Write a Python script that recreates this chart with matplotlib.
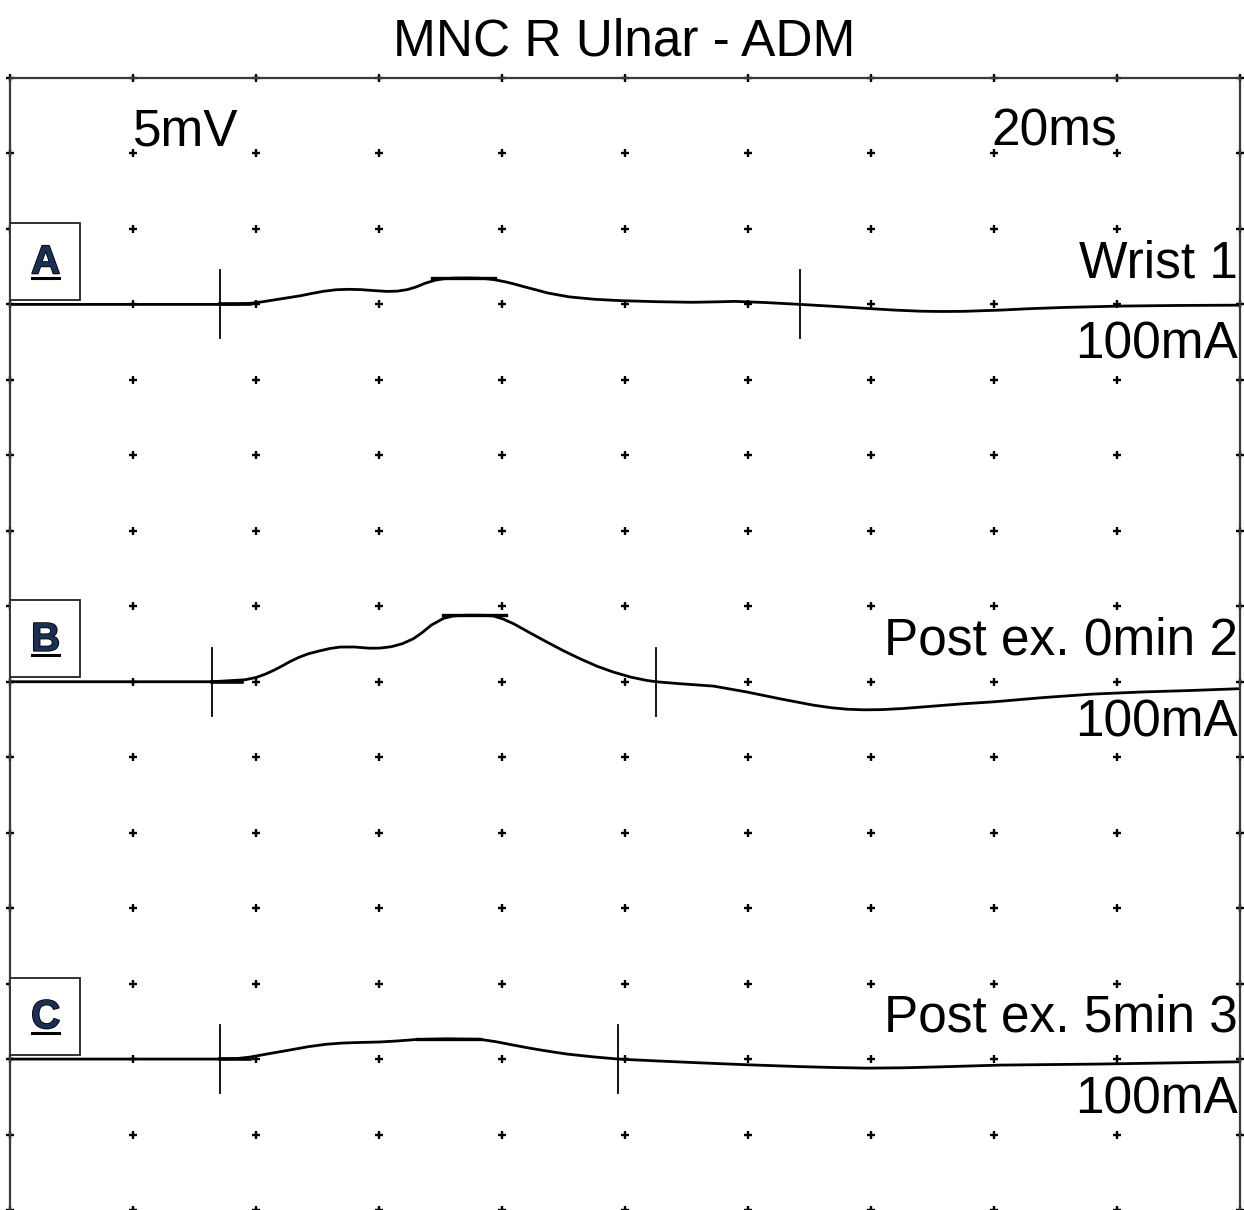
import numpy as np
import matplotlib.pyplot as plt
import matplotlib.patheffects as pe
from matplotlib.patches import Rectangle

plt.rcParams['font.family'] = ['Liberation Sans', 'DejaVu Sans']

# sweep: 20 ms over 10 divisions, 5 mV per division, 15 divisions tall
title = "MNC R Ulnar - ADM"
gain_label = "5mV"
sweep_label = "20ms"

trace_letters = ["A", "B", "C"]
trace_names = ["Wrist 1", "Post ex. 0min 2", "Post ex. 5min 3"]
trace_stim = ["100mA", "100mA", "100mA"]
trace_offsets = [60, 35, 10]  # baseline of each trace (mV on the screen)

# trace A (ms, mV)
t_a = [0, 1.14, 3.41, 3.70, 3.90, 4.10, 4.30, 4.50, 4.72, 4.90, 5.10, 5.30, 5.50,
       5.70, 5.90, 6.13, 6.30, 6.46, 6.60, 6.75, 6.91, 7.05, 7.20, 7.41, 7.60,
       7.75, 7.87, 8.05, 8.20, 8.35, 8.52, 8.75, 9.09, 9.50, 9.92, 10.50, 11.09,
       11.50, 11.79, 12.30, 12.85, 13.40, 13.94, 14.40, 14.80, 15.15, 15.50,
       16.09, 16.60, 17.15, 18.07, 19.00, 20.0]
v_a = [0, 0, 0, 0.02, 0.07, 0.17, 0.30, 0.43, 0.57, 0.72, 0.87, 0.97, 1.00,
       0.98, 0.92, 0.86, 0.88, 0.98, 1.15, 1.40, 1.60, 1.70, 1.74, 1.75, 1.74,
       1.70, 1.64, 1.50, 1.35, 1.18, 1.00, 0.75, 0.50, 0.34, 0.25, 0.18, 0.14,
       0.17, 0.20, 0.12, 0.0, -0.13, -0.27, -0.38, -0.45, -0.47, -0.46,
       -0.38, -0.28, -0.20, -0.11, -0.07, -0.05]

# trace B
t_b = [0, 3.28, 3.82, 4.00, 4.15, 4.30, 4.45, 4.55, 4.70, 4.85, 5.04, 5.20,
       5.37, 5.60, 5.85, 6.02, 6.20, 6.38, 6.56, 6.70, 6.85, 7.05, 7.20, 7.35,
       7.53, 7.70, 7.86, 8.02, 8.19, 8.45, 8.73, 9.00, 9.27, 9.55, 9.81, 10.10,
       10.35, 10.50, 10.89, 11.44, 11.98, 12.52, 13.06, 13.35, 13.61, 13.88,
       14.15, 14.50, 15.0, 15.50, 16.0, 16.80, 17.6, 18.40, 19.2, 20.0]
v_b = [0, 0, 0.13, 0.28, 0.50, 0.78, 1.10, 1.33, 1.62, 1.85, 2.05, 2.20,
       2.30, 2.30, 2.22, 2.23, 2.32, 2.52, 2.85, 3.25, 3.75, 4.20, 4.35, 4.40,
       4.41, 4.40, 4.36, 4.15, 3.84, 3.25, 2.63, 2.05, 1.52, 1.02, 0.64, 0.30,
       0.09, 0.0, -0.13, -0.29, -0.68, -1.13, -1.55, -1.72, -1.82, -1.86,
       -1.85, -1.78, -1.62, -1.46, -1.33, -1.05, -0.82, -0.68, -0.58, -0.46]

# trace C
t_c = [0, 3.41, 3.70, 3.90, 4.20, 4.55, 4.85, 5.14, 5.40, 5.60, 6.00, 6.30,
       6.62, 7.10, 7.64, 7.90, 8.18, 8.40, 8.60, 8.83, 9.06, 9.50, 9.89, 10.50,
       11.22, 12.00, 12.85, 13.40, 13.94, 14.50, 15.0, 16.1, 17.72, 20.0]
v_c = [0, 0, 0.04, 0.13, 0.35, 0.60, 0.82, 0.98, 1.06, 1.09, 1.13, 1.20,
       1.30, 1.34, 1.31, 1.15, 0.93, 0.76, 0.62, 0.47, 0.33, 0.14, 0.0, -0.12,
       -0.25, -0.38, -0.50, -0.56, -0.60, -0.58, -0.53, -0.40, -0.33, -0.18]

trace_times = [t_a, t_b, t_c]
trace_values = [v_a, v_b, v_c]

# cursor markers: onset, end, peak bar (start, end, level)
onset_ms = [3.41, 3.28, 3.41]
end_ms = [12.85, 10.50, 9.89]
peak_start = [6.86, 7.04, 6.62]
peak_end = [7.89, 8.07, 7.64]
peak_mv = [1.75, 4.40, 1.33]

fig = plt.figure(figsize=(12.44, 12.10), dpi=100)
ax = fig.add_axes([10 / 1244, 0, 1230 / 1244, 1132 / 1210])
ax.set_xlim(0, 20)
ax.set_ylim(0, 75)
ax.set_xticks([])
ax.set_yticks([])
for side in ["left", "top", "right"]:
    ax.spines[side].set_color("#3a3a3a")
    ax.spines[side].set_linewidth(1.6)
ax.spines["bottom"].set_visible(False)

# dotted screen grid
gx, gy = np.meshgrid(np.arange(0, 20.01, 2), np.arange(0, 75.1, 5))
ax.plot(gx.ravel(), gy.ravel(), "+", color="black", markersize=5.5,
        markeredgewidth=1.7, linestyle="none", clip_on=False)

for i in range(3):
    base = trace_offsets[i]
    t = np.array(trace_times[i])
    v = np.array(trace_values[i]) + base
    ax.plot(t, v, color="black", linewidth=2.0, solid_joinstyle="round",
            solid_capstyle="round")

    # cursors
    for xm in (onset_ms[i], end_ms[i]):
        ax.plot([xm, xm], [base - 2.25, base + 2.25], color="black", linewidth=1.3)
    ax.plot([onset_ms[i], onset_ms[i] + 0.5], [base, base], color="black", linewidth=2.6)
    ax.plot([peak_start[i], peak_end[i]], [base + peak_mv[i]] * 2,
            color="black", linewidth=2.4)

    # letter box
    ax.add_patch(Rectangle((0, base + 0.3), 1.14, 5.1, facecolor="white",
                           edgecolor="#222222", linewidth=1.3, zorder=3))
    ax.text(0.58, base + 2.05, trace_letters[i], ha="center", va="baseline",
            fontsize=29, fontweight="bold", color="#1b2f55", zorder=4,
            path_effects=[pe.withStroke(linewidth=1.2, foreground="black")])
    ax.plot([0.36, 0.80], [base + 1.75] * 2, color="black", linewidth=2.2, zorder=4)

    # right side labels
    ax.text(19.97, base + 1.8, trace_names[i], ha="right", va="baseline", fontsize=37)
    ax.text(19.97, base - 3.6, trace_stim[i], ha="right", va="baseline", fontsize=37)

ax.text(2.0, 70.56, gain_label, ha="left", va="baseline", fontsize=37)
ax.text(15.95, 70.56, sweep_label, ha="left", va="baseline", fontsize=37)

fig.text(624 / 1244, 1 - 55 / 1210, title, ha="center", va="baseline", fontsize=37)

fig.savefig("out.png", dpi=100)
